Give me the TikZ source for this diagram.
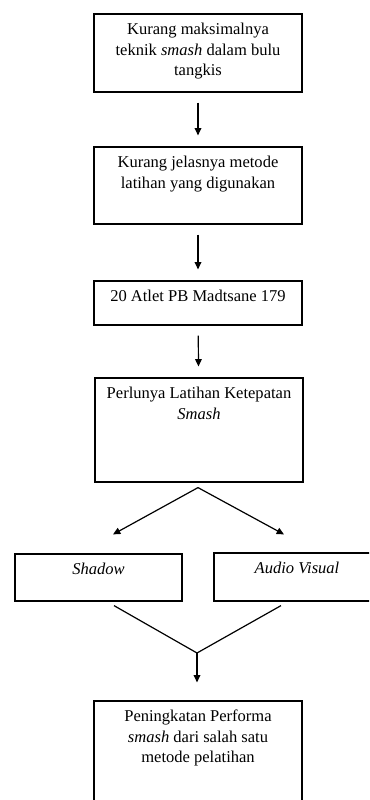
\documentclass[tikz,border=0pt]{standalone}
\usepackage{fontspec}
\setmainfont{Liberation Serif}
\usetikzlibrary{arrows.meta,calc}
\newcommand\boxtext[3]{\parbox[c][#1][t]{#2}{\centering\rule{0pt}{15.4pt}#3\par}}
\begin{document}
\begin{tikzpicture}[x=0.75pt,y=-0.75pt,
  font=\fontsize{12.4}{15.4}\selectfont,
  box/.style={draw, inner sep=0pt, line width=0.9pt},
  arr/.style={line width=0.9pt, -{Triangle[length=5.5pt,width=5pt]}},
  ln/.style={line width=0.9pt},
  gap/.style={shorten <=7.5pt, shorten >=8.25pt}]
\useasboundingbox (0,0) rectangle (369,800);
\clip (0,0) rectangle (369,800);
\node[box] (b1) at (198,53) {\boxtext{58.5pt}{156pt}{Kurang maksimalnya\\ teknik \textit{smash} dalam bulu\\ tangkis}};
\node[box] (b2) at (198,185.5) {\boxtext{57.75pt}{156pt}{Kurang jelasnya metode\\ latihan yang digunakan}};
\node[box] (b3) at (198,303) {\boxtext{33pt}{156pt}{20 Atlet PB Madtsane 179}};
\node[box] (b4) at (199,430) {\boxtext{78pt}{156pt}{Perlunya Latihan Ketepatan\\ \textit{Smash}}};
\node[box] (sh) at (98.5,577.5) {\boxtext{35.25pt}{125.25pt}{\textit{Shadow}}};
\node[box] (av) at (297,577) {\boxtext{36pt}{124.5pt}{\textit{Audio Visual}}};
\node[box] (b6) at (198,761) {\boxtext{90pt}{156pt}{Peningkatan Performa\\ \textit{smash} dari salah satu\\ metode pelatihan}};
\draw[arr,gap] (b1) -- (b2);
\draw[arr,gap] (b2) -- (b3);
\draw[arr,gap] (b3) -- (b4);
\coordinate (sp) at ($(b4.south)+(-1,5)$);
\coordinate (tl) at ($(sh.north)+(14.5,-19)$);
\coordinate (tr) at ($(av.north)+(-13,-18)$);
\draw[arr] (sp) -- (tl);
\draw[arr] (sp) -- (tr);
\coordinate (ml) at ($(sh.south)+(15.5,4)$);
\coordinate (mr) at ($(av.south)+(-16,4)$);
\coordinate (mg) at (197,653);
\draw[ln] (ml) -- (mg) -- (mr);
\draw[arr, shorten >=13.5pt] (mg) -- (b6.north -| mg);
\end{tikzpicture}
\end{document}
